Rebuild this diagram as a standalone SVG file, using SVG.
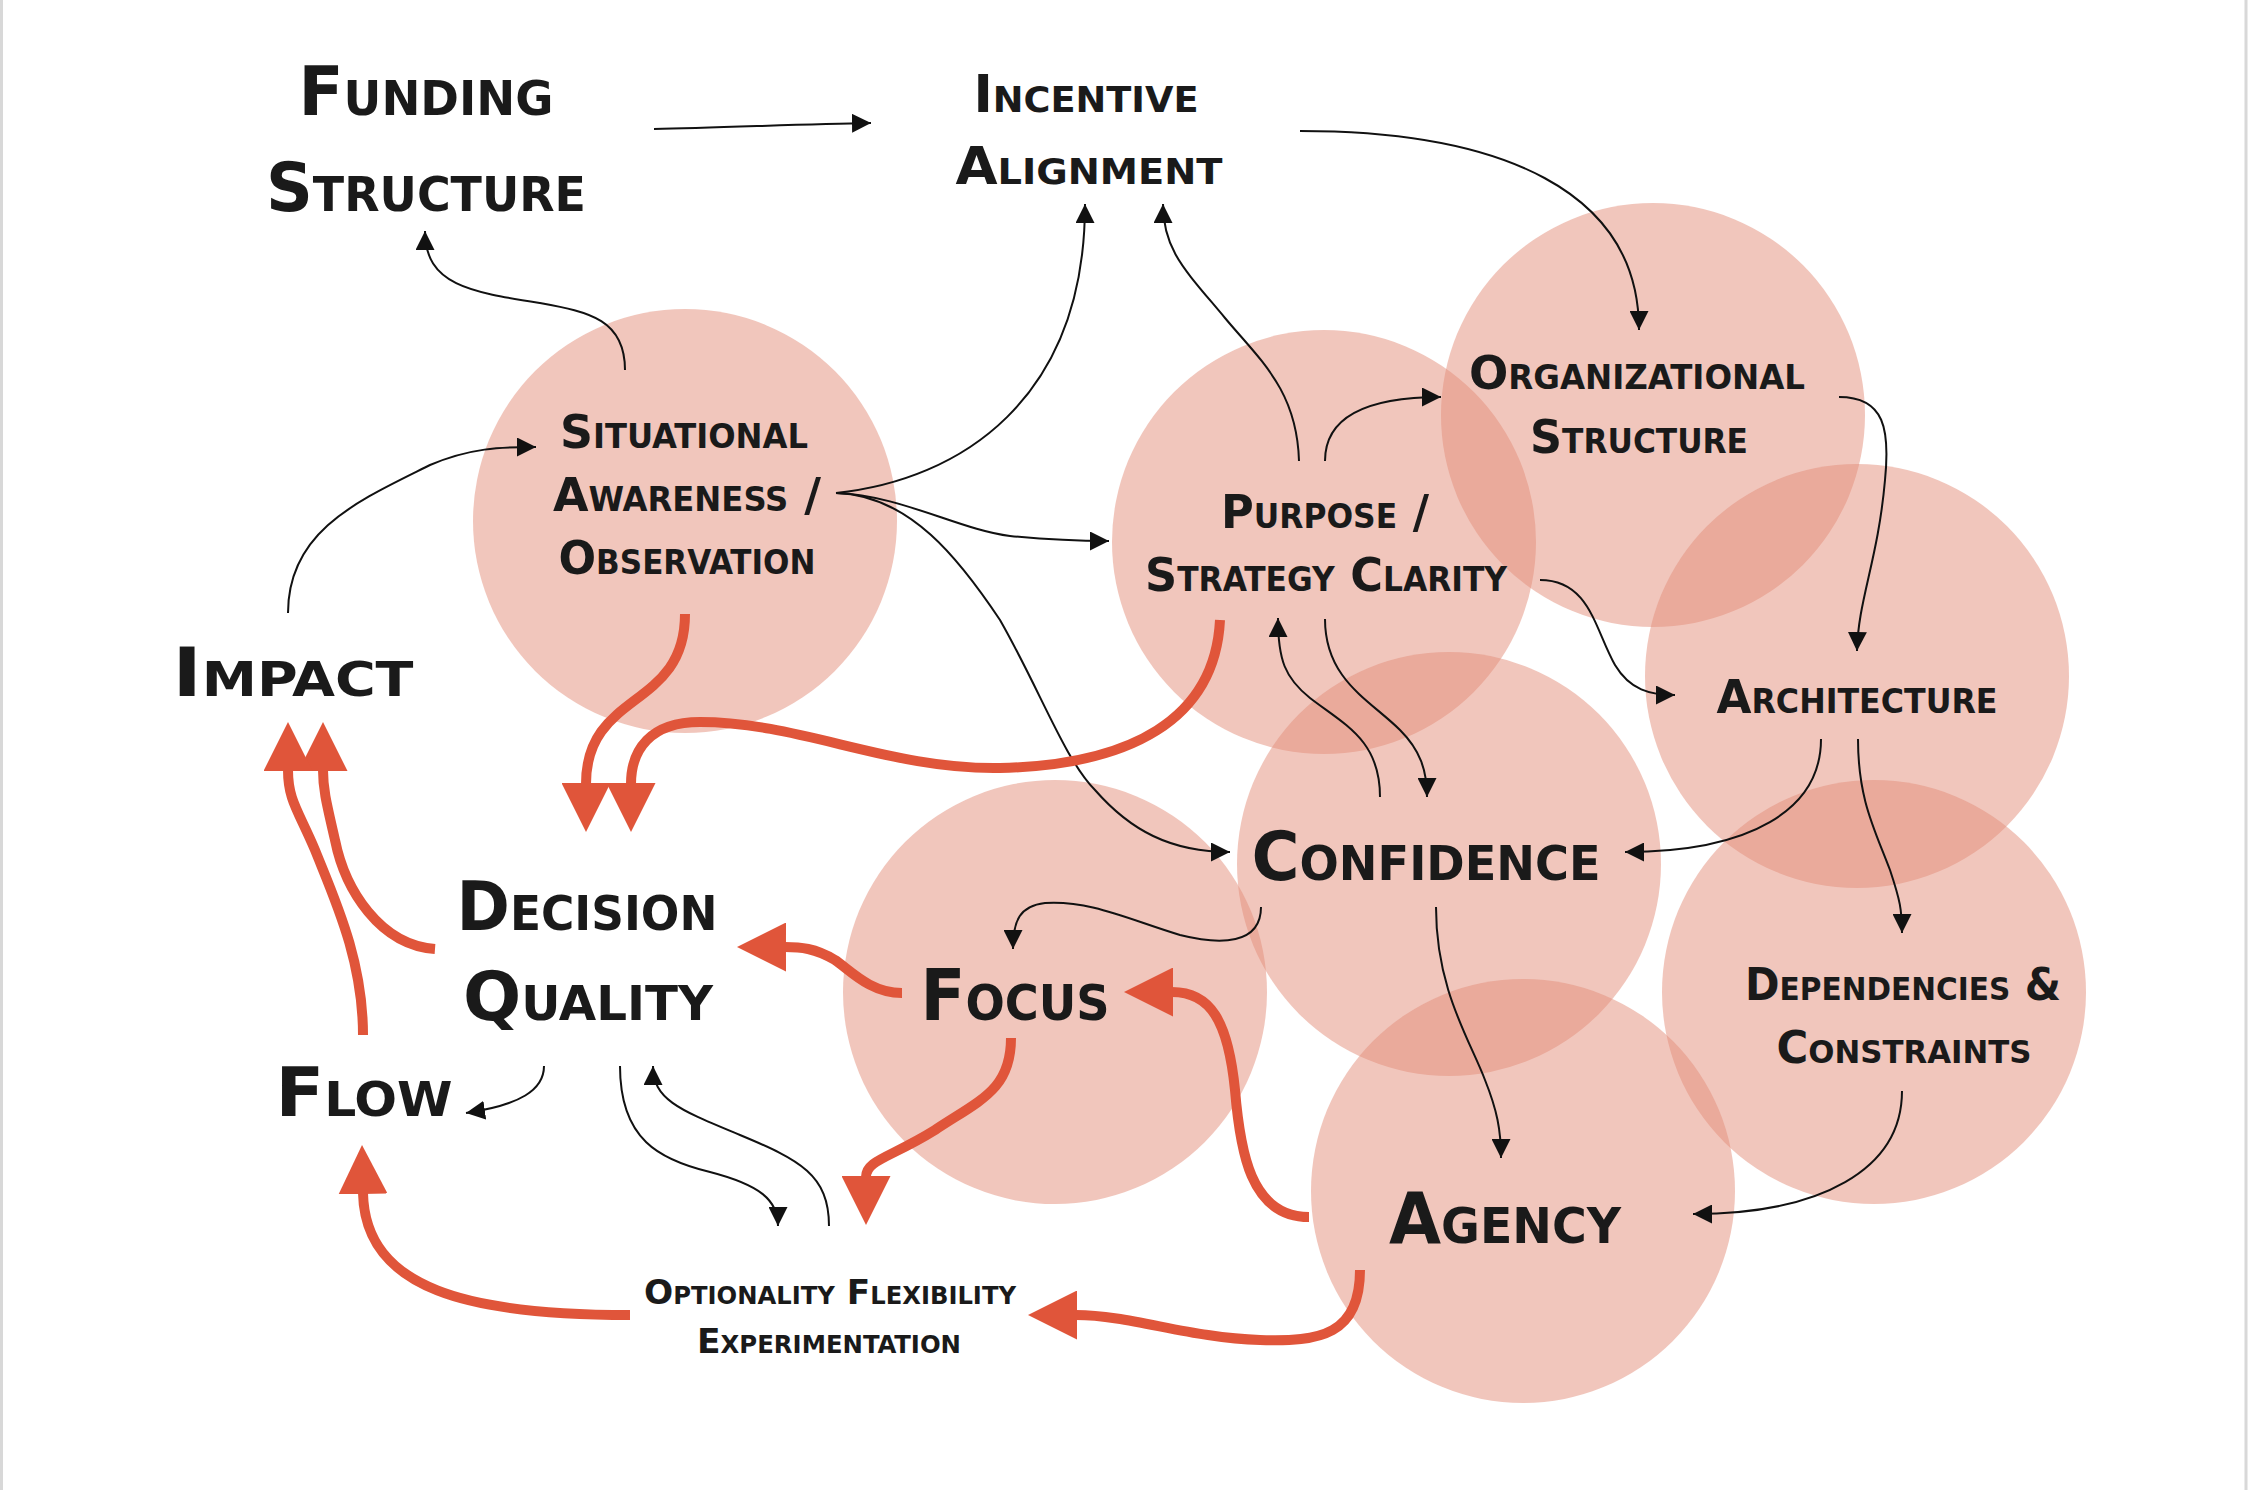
<svg xmlns="http://www.w3.org/2000/svg" width="2250" height="1490" viewBox="0 0 2250 1490">
<style>
.c{fill:#E38E7A;fill-opacity:0.5}
.t{font-family:"DejaVu Sans Condensed","Liberation Sans",sans-serif;font-weight:bold;font-variant:small-caps;fill:#1a1a1a;text-anchor:middle}
.thin{fill:none;stroke:#111;stroke-width:2;marker-end:url(#ah)}
.red{fill:none;stroke:#E0553A;stroke-width:10;marker-end:url(#rh)}
</style>
<defs>
<marker id="ah" viewBox="0 0 10 10" refX="10" refY="5" markerWidth="19" markerHeight="19" markerUnits="userSpaceOnUse" orient="auto"><path d="M0,0 L10,5 L0,10 z" fill="#111"/></marker>
<marker id="rh" viewBox="0 0 50 50" refX="1" refY="25" markerWidth="49" markerHeight="49" markerUnits="userSpaceOnUse" orient="auto"><path d="M0,0 L50,25 L0,50 z" fill="#E0553A"/></marker>
</defs>
<rect width="2250" height="1490" fill="#fff"/>
<line x1="1.5" y1="0" x2="1.5" y2="1490" stroke="#d8d8d8" stroke-width="3"/>
<line x1="2246" y1="0" x2="2246" y2="1490" stroke="#d8d8d8" stroke-width="3"/>
<g id="circles">
<circle class="c" cx="685" cy="521" r="212"/>
<circle class="c" cx="1324" cy="542" r="212"/>
<circle class="c" cx="1653" cy="415" r="212"/>
<circle class="c" cx="1857" cy="676" r="212"/>
<circle class="c" cx="1449" cy="864" r="212"/>
<circle class="c" cx="1055" cy="992" r="212"/>
<circle class="c" cx="1874" cy="992" r="212"/>
<circle class="c" cx="1523" cy="1191" r="212"/>
</g>
<g id="connectors">
<path class="thin" d="M654,129 C720,128 800,124 871,123"/>
<path class="thin" d="M625,370 C625,320 590,312 540,303 C470,292 425,285 425,231"/>
<path class="thin" d="M836,493 C960,480 1085,400 1085,204"/>
<path class="thin" d="M836,493 C900,495 960,530 1010,536 C1050,540 1080,541 1109,541"/>
<path class="thin" d="M836,493 C910,495 960,560 1000,620 C1040,690 1065,760 1095,790 C1130,830 1170,852 1230,852"/>
<path class="thin" d="M288,613 C288,530 360,500 430,465 C470,448 500,447 536,447"/>
<path class="thin" d="M1299,461 C1297,390 1260,360 1225,318 C1185,270 1163,250 1163,204"/>
<path class="thin" d="M1325,461 C1325,420 1360,397 1441,397"/>
<path class="thin" d="M1300,131 C1500,131 1639,190 1639,330"/>
<path class="thin" d="M1839,397 C1885,397 1890,430 1885,480 C1878,560 1858,600 1857,651"/>
<path class="thin" d="M1540,580 C1590,580 1595,630 1615,665 C1630,690 1650,695 1675,695"/>
<path class="thin" d="M1380,797 C1380,740 1345,725 1310,698 C1285,678 1278,660 1278,618"/>
<path class="thin" d="M1325,619 C1325,680 1370,700 1400,730 C1420,750 1427,770 1427,797"/>
<path class="thin" d="M1821,739 C1821,810 1750,852 1625,852"/>
<path class="thin" d="M1858,739 C1858,800 1875,830 1890,870 C1900,900 1902,910 1902,933"/>
<path class="thin" d="M1261,907 C1261,945 1220,945 1180,935 C1130,920 1090,900 1045,903 C1020,906 1013,920 1013,949"/>
<path class="thin" d="M1436,907 C1436,990 1470,1040 1485,1080 C1497,1110 1501,1130 1501,1158"/>
<path class="thin" d="M1902,1091 C1902,1170 1820,1214 1693,1214"/>
<path class="thin" d="M544,1066 C544,1090 520,1105 466,1113"/>
<path class="thin" d="M620,1066 C620,1140 660,1160 710,1172 C760,1185 778,1200 778,1226"/>
<path class="thin" d="M829,1226 C829,1175 800,1160 740,1135 C680,1110 653,1100 653,1066"/>
<path class="red" d="M685,614 C685,710 586,690 586,784"/>
<path class="red" d="M1220,620 C1215,720 1130,765 1000,768 C890,770 800,722 700,722 C650,722 631,750 631,784"/>
<path class="red" d="M435,949 C380,945 345,890 335,840 C327,805 323,790 323,770"/>
<path class="red" d="M363,1035 C363,960 335,900 315,850 C298,810 288,800 288,770"/>
<path class="red" d="M902,993 C870,993 850,970 835,960 C815,948 800,947 785,947"/>
<path class="red" d="M1011,1038 C1011,1090 980,1100 935,1130 C890,1158 866,1160 866,1177"/>
<path class="red" d="M1309,1217 C1250,1217 1240,1150 1235,1090 C1228,1020 1210,992 1172,992"/>
<path class="red" d="M1360,1270 C1360,1335 1320,1342 1260,1340 C1190,1338 1130,1315 1076,1315"/>
<path class="red" d="M630,1315 C470,1315 365,1290 363,1193"/>
</g>
<g id="funding"><text class="t" font-size="68" x="426" y="115" textLength="255" lengthAdjust="spacingAndGlyphs">Funding</text><text class="t" font-size="68" x="426" y="211" textLength="320" lengthAdjust="spacingAndGlyphs">Structure</text></g>
<g id="incentive"><text class="t" font-size="51" x="1086" y="112" textLength="225" lengthAdjust="spacingAndGlyphs">Incentive</text><text class="t" font-size="51" x="1089" y="184" textLength="267" lengthAdjust="spacingAndGlyphs">Alignment</text></g>
<g id="situational"><text class="t" font-size="47" x="684" y="448" textLength="248" lengthAdjust="spacingAndGlyphs">Situational</text><text class="t" font-size="47" x="687" y="511" textLength="268" lengthAdjust="spacingAndGlyphs">Awareness /</text><text class="t" font-size="47" x="687" y="574" textLength="257" lengthAdjust="spacingAndGlyphs">Observation</text></g>
<g id="purpose"><text class="t" font-size="47" x="1325" y="528" textLength="208" lengthAdjust="spacingAndGlyphs">Purpose /</text><text class="t" font-size="47" x="1326" y="591" textLength="362" lengthAdjust="spacingAndGlyphs">Strategy Clarity</text></g>
<g id="organizational"><text class="t" font-size="47" x="1637" y="389" textLength="336" lengthAdjust="spacingAndGlyphs">Organizational</text><text class="t" font-size="47" x="1639" y="453" textLength="218" lengthAdjust="spacingAndGlyphs">Structure</text></g>
<g id="architecture"><text class="t" font-size="47" x="1857" y="713" textLength="281" lengthAdjust="spacingAndGlyphs">Architecture</text></g>
<g id="confidence"><text class="t" font-size="68" x="1426" y="880" textLength="349" lengthAdjust="spacingAndGlyphs">Confidence</text></g>
<g id="dependencies"><text class="t" font-size="45" x="1903" y="1000" textLength="316" lengthAdjust="spacingAndGlyphs">Dependencies &amp;</text><text class="t" font-size="45" x="1904" y="1063" textLength="255" lengthAdjust="spacingAndGlyphs">Constraints</text></g>
<g id="agency"><text class="t" font-size="71" x="1505" y="1243" textLength="232" lengthAdjust="spacingAndGlyphs">Agency</text></g>
<g id="focus"><text class="t" font-size="71" x="1015" y="1020" textLength="189" lengthAdjust="spacingAndGlyphs">Focus</text></g>
<g id="decision"><text class="t" font-size="68" x="587" y="930" textLength="261" lengthAdjust="spacingAndGlyphs">Decision</text><text class="t" font-size="68" x="588" y="1020" textLength="250" lengthAdjust="spacingAndGlyphs">Quality</text></g>
<g id="impact"><text class="t" font-size="68" x="293" y="696" textLength="241" lengthAdjust="spacingAndGlyphs">Impact</text></g>
<g id="flow"><text class="t" font-size="68" x="364" y="1116" textLength="177" lengthAdjust="spacingAndGlyphs">Flow</text></g>
<g id="optionality"><text class="t" font-size="34" x="830" y="1304" textLength="372" lengthAdjust="spacingAndGlyphs">Optionality Flexibility</text><text class="t" font-size="34" x="829" y="1353" textLength="264" lengthAdjust="spacingAndGlyphs">Experimentation</text></g>
</svg>
